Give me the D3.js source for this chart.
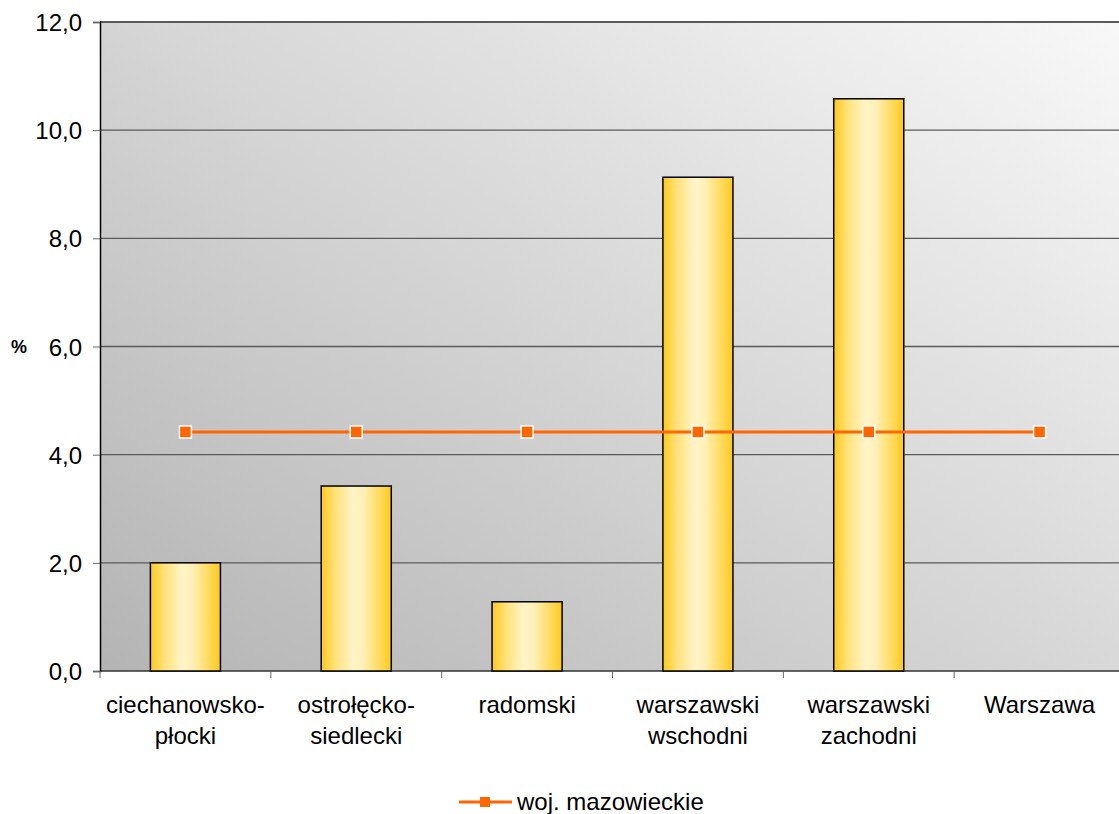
<!DOCTYPE html>
<html><head><meta charset="utf-8">
<script src="https://cdn.jsdelivr.net/npm/d3@7"></script>
<style>body{margin:0;background:#fff;overflow:hidden}svg{display:block}</style>
</head><body><svg id="c" width="1119" height="814"></svg>
<script>
const categories = [["ciechanowsko-","płocki"],["ostrołęcko-","siedlecki"],["radomski"],["warszawski","wschodni"],["warszawski","zachodni"],["Warszawa"]];
const barValues = [2.0, 3.42, 1.28, 9.13, 10.58, null];
const lineValues = [4.42, 4.42, 4.42, 4.42, 4.42, 4.42];
const yTicks = [0,2,4,6,8,10,12];
const seriesName = "woj. mazowieckie";

const svg = d3.select("#c");
const L=100, R=1125, T=22, B=671;
const font = "'Liberation Sans', Arial, sans-serif";
const idx = d3.range(categories.length);
const x = d3.scaleBand().domain(idx).range([L,R]).paddingInner(0.59).paddingOuter(0.295);
const xb = d3.scaleBand().domain(idx).range([L,R]);
const y = d3.scaleLinear().domain([0,12]).range([B,T]);

const defs = svg.append("defs");
const bg = defs.append("linearGradient").attr("id","bg").attr("gradientUnits","userSpaceOnUse")
  .attr("x1",L).attr("y1",B).attr("x2",L+720).attr("y2",B-1000);
bg.append("stop").attr("offset","0").attr("stop-color","#b4b4b4");
bg.append("stop").attr("offset","1").attr("stop-color","#ffffff");
const bar = defs.append("linearGradient").attr("id","bar").attr("x1","0").attr("x2","1").attr("y1","0").attr("y2","0");
[[0,"#ffc81e"],[0.2,"#ffe27a"],[0.45,"#fff4c8"],[0.6,"#fff0b8"],[0.85,"#ffd957"],[1,"#ffc81e"]].forEach(([o,c])=>bar.append("stop").attr("offset",o).attr("stop-color",c));

svg.append("rect").attr("x",L).attr("y",T).attr("width",R-L).attr("height",B-T).attr("fill","url(#bg)");

// gridlines
svg.append("g").selectAll("line").data(yTicks).join("line")
  .attr("x1",L).attr("x2",R).attr("y1",d=>y(d)).attr("y2",d=>y(d))
  .attr("stroke",d=>d===0?"#333":"#5a5a5a").attr("stroke-width",d=>d===12?2:1.3);

// y axis
const ya = svg.append("g").attr("transform",`translate(${L},0)`)
  .call(d3.axisLeft(y).tickValues(yTicks).tickSize(7).tickPadding(11).tickFormat(d=>d3.format(".1f")(d).replace(".",",")));
ya.attr("font-size",null).attr("font-family",null);
ya.select(".domain").attr("stroke","#000").attr("stroke-width",1.5);
ya.selectAll(".tick line").attr("stroke","#666");
ya.selectAll("text").attr("font-family",font).attr("font-size",24).attr("fill","#000").attr("dy","0.36em");

// x axis ticks
svg.append("g").selectAll("line").data(d3.range(categories.length+1)).join("line")
  .attr("x1",i=>L+i*xb.step()).attr("x2",i=>L+i*xb.step()).attr("y1",B).attr("y2",B+7).attr("stroke","#666");
const lab = svg.append("g").selectAll("text").data(idx).join("text")
  .attr("x",i=>xb(i)+xb.bandwidth()/2).attr("y",B+42)
  .attr("text-anchor","middle").attr("font-family",font).attr("font-size",24).attr("fill","#000");
lab.each(function(i){
  const t=d3.select(this);
  categories[i].forEach((s,k)=>t.append("tspan").attr("x",xb(i)+xb.bandwidth()/2).attr("dy",k?31:0).text(s));
});

// bars
svg.append("g").selectAll("rect").data(idx.filter(i=>barValues[i]!=null)).join("rect")
  .attr("x",i=>x(i)).attr("width",x.bandwidth())
  .attr("y",i=>y(barValues[i])).attr("height",i=>B-y(barValues[i]))
  .attr("fill","url(#bar)").attr("stroke","#000").attr("stroke-width",1.5);

// line
const line = d3.line().x((d,i)=>xb(i)+xb.bandwidth()/2).y(d=>y(d));
svg.append("path").datum(lineValues).attr("d",line).attr("fill","none").attr("stroke","#ff6600").attr("stroke-width",3);
svg.append("g").selectAll("rect").data(lineValues).join("rect")
  .attr("x",(d,i)=>xb(i)+xb.bandwidth()/2-6).attr("y",d=>y(d)-6).attr("width",12).attr("height",12)
  .attr("fill","#ff6600").attr("stroke","#fff").attr("stroke-width",1.5);

// y label
svg.append("text").attr("x",11).attr("y",353).attr("font-family",font).attr("font-size",18).attr("font-weight","bold").text("%");

// legend
const lg = svg.append("g");
lg.append("line").attr("x1",459).attr("x2",512).attr("y1",802).attr("y2",802).attr("stroke","#ff6600").attr("stroke-width",3);
lg.append("rect").attr("x",480).attr("y",797).attr("width",10).attr("height",10).attr("fill","#ff6600");
lg.append("text").attr("x",517).attr("y",810).attr("font-family",font).attr("font-size",24).text(seriesName);
</script></body></html>
